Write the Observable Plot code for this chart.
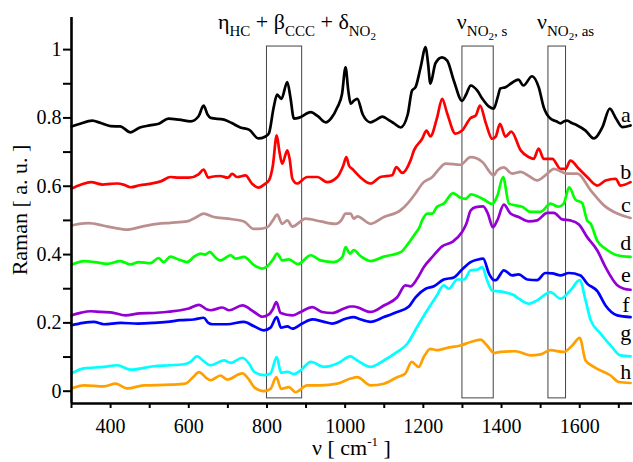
<!DOCTYPE html>
<html>
<head>
<meta charset="utf-8">
<script src="https://cdn.jsdelivr.net/npm/d3@7"></script>
<script src="https://cdn.jsdelivr.net/npm/@observablehq/plot@0.6"></script>
<style>
  html, body { margin: 0; padding: 0; background: #fff; }
</style>
</head>
<body>
<div id="chart"></div>
<script>
// ---- data: Raman spectra [wavenumber, intensity] ----
const a = [[300,.775],[320,.782],[353,.792],[375,.785],[400,.776],[425,.775],[451,.758],[475,.772],[500,.778],[525,.784],[548,.798],[575,.795],[605,.79],[625,.805],[638,.836],[648,.81],[656,.80],[690,.795],[710,.785],[732,.772],[755,.765],[778,.74],[795,.745],[805,.755],[817,.83],[826,.868],[837,.856],[852,.905],[860,.86],[869,.798],[881,.80],[912,.817],[930,.805],[950,.787],[965,.80],[980,.831],[992,.87],[1001,.948],[1008,.88],[1014,.842],[1022,.85],[1031,.856],[1045,.81],[1065,.787],[1080,.795],[1095,.804],[1110,.795],[1125,.784],[1142,.772],[1160,.81],[1171,.88],[1180,.89],[1193,.948],[1206,1.007],[1212,.96],[1218,.90],[1231,.96],[1248,.977],[1261,.968],[1278,.909],[1299,.85],[1310,.87],[1321,.895],[1338,.88],[1351,.856],[1368,.833],[1380,.827],[1390,.86],[1397,.886],[1410,.89],[1427,.903],[1443,.912],[1456,.895],[1478,.922],[1495,.89],[1508,.831],[1525,.798],[1540,.79],[1551,.784],[1560,.79],[1568,.792],[1580,.785],[1594,.778],[1615,.763],[1636,.74],[1658,.773],[1677,.827],[1692,.80],[1709,.773],[1730,.778]];
const b = [[300,.593],[325,.605],[350,.612],[380,.605],[400,.607],[417,.608],[435,.604],[451,.597],[475,.603],[500,.607],[530,.615],[553,.627],[575,.625],[600,.625],[625,.635],[638,.649],[650,.625],[656,.627],[680,.63],[700,.625],[711,.636],[724,.627],[745,.632],[762,.607],[779,.596],[795,.607],[805,.617],[815,.66],[825,.749],[832,.70],[839,.666],[852,.705],[858,.68],[865,.622],[877,.608],[903,.627],[929,.627],[954,.612],[980,.627],[995,.66],[1003,.685],[1010,.66],[1018,.651],[1038,.627],[1065,.608],[1090,.627],[1120,.632],[1131,.656],[1146,.639],[1167,.675],[1176,.705],[1197,.739],[1208,.763],[1218,.746],[1235,.80],[1248,.856],[1261,.813],[1282,.754],[1299,.763],[1321,.80],[1334,.807],[1345,.836],[1360,.784],[1376,.739],[1385,.745],[1396,.783],[1410,.745],[1425,.76],[1449,.705],[1470,.685],[1482,.68],[1495,.71],[1508,.68],[1530,.68],[1551,.651],[1564,.651],[1576,.675],[1598,.651],[1619,.627],[1645,.602],[1666,.617],[1692,.622],[1704,.602],[1730,.612]];
const c = [[300,.485],[320,.49],[344,.492],[380,.485],[410,.478],[443,.473],[480,.482],[520,.49],[553,.493],[596,.497],[620,.51],[638,.52],[664,.51],[700,.505],[741,.497],[766,.475],[778,.475],[801,.48],[815,.50],[826,.517],[839,.49],[852,.50],[865,.482],[899,.505],[937,.497],[975,.49],[990,.50],[1001,.52],[1014,.52],[1022,.505],[1031,.512],[1065,.49],[1099,.51],[1142,.53],[1160,.55],[1176,.573],[1201,.612],[1223,.627],[1240,.65],[1257,.666],[1295,.663],[1321,.685],[1351,.671],[1380,.632],[1389,.646],[1406,.655],[1427,.637],[1449,.642],[1470,.63],[1491,.617],[1515,.635],[1534,.651],[1568,.637],[1594,.637],[1628,.588],[1662,.544],[1696,.52],[1730,.507]];
const d = [[300,.37],[332,.381],[360,.378],[391,.373],[425,.381],[451,.371],[472,.378],[502,.375],[523,.39],[536,.378],[553,.394],[575,.385],[596,.378],[613,.393],[630,.403],[642,.40],[654,.408],[665,.395],[681,.383],[707,.398],[720,.388],[741,.393],[767,.369],[788,.359],[801,.366],[815,.385],[826,.403],[839,.383],[856,.386],[879,.372],[912,.398],[937,.383],[971,.378],[993,.393],[1001,.422],[1012,.403],[1022,.413],[1040,.395],[1065,.381],[1099,.394],[1142,.407],[1160,.43],[1176,.456],[1190,.48],[1197,.50],[1210,.52],[1223,.52],[1235,.54],[1252,.549],[1276,.58],[1295,.566],[1308,.563],[1322,.576],[1338,.571],[1355,.561],[1376,.548],[1389,.571],[1404,.627],[1419,.549],[1436,.544],[1453,.54],[1474,.525],[1500,.525],[1525,.549],[1546,.54],[1559,.549],[1573,.597],[1589,.561],[1606,.551],[1619,.50],[1628,.49],[1645,.44],[1666,.417],[1696,.398],[1730,.393]];
const e = [[300,.222],[325,.23],[349,.234],[375,.232],[400,.231],[438,.222],[475,.228],[511,.229],[550,.233],[579,.237],[600,.242],[626,.253],[647,.239],[656,.237],[686,.245],[703,.237],[737,.251],[767,.232],[788,.218],[805,.225],[815,.24],[824,.261],[835,.229],[865,.222],[886,.232],[916,.246],[941,.232],[967,.229],[997,.242],[1014,.248],[1022,.248],[1065,.232],[1099,.251],[1133,.275],[1154,.31],[1167,.307],[1184,.329],[1201,.363],[1223,.393],[1248,.424],[1274,.437],[1299,.466],[1310,.49],[1321,.529],[1334,.539],[1353,.541],[1365,.52],[1378,.48],[1389,.50],[1406,.546],[1423,.52],[1444,.51],[1470,.497],[1491,.50],[1517,.522],[1534,.522],[1555,.503],[1576,.50],[1598,.488],[1619,.451],[1645,.412],[1666,.363],[1696,.31],[1713,.30],[1730,.297]];
const f = [[300,.193],[330,.2],[357,.203],[383,.196],[425,.2],[470,.198],[511,.2],[545,.203],[579,.208],[613,.21],[638,.215],[650,.2],[660,.196],[698,.196],[741,.203],[767,.19],[792,.178],[809,.186],[825,.217],[836,.186],[852,.19],[865,.183],[890,.198],[916,.21],[946,.203],[967,.198],[1001,.212],[1022,.217],[1035,.212],[1065,.203],[1099,.217],[1133,.232],[1163,.248],[1180,.275],[1206,.30],[1227,.307],[1252,.327],[1278,.333],[1299,.356],[1321,.378],[1338,.385],[1353,.388],[1368,.344],[1381,.325],[1385,.325],[1406,.354],[1427,.339],[1444,.342],[1466,.327],[1491,.325],[1512,.346],[1530,.345],[1551,.339],[1572,.346],[1602,.339],[1619,.315],[1645,.293],[1666,.251],[1696,.222],[1730,.217]];
const g = [[300,.052],[332,.067],[383,.071],[417,.076],[451,.063],[511,.073],[550,.076],[587,.079],[604,.086],[621,.102],[638,.088],[655,.076],[690,.09],[707,.083],[737,.098],[754,.081],[767,.057],[792,.047],[809,.052],[825,.10],[836,.054],[852,.057],[869,.05],[886,.061],[912,.086],[946,.071],[980,.081],[1014,.102],[1031,.09],[1065,.071],[1099,.09],[1133,.115],[1159,.139],[1184,.188],[1210,.237],[1235,.281],[1252,.31],[1265,.30],[1287,.327],[1304,.327],[1321,.354],[1338,.356],[1351,.363],[1363,.325],[1376,.295],[1406,.29],[1432,.281],[1444,.271],[1470,.256],[1491,.266],[1525,.29],[1551,.271],[1576,.295],[1600,.325],[1615,.266],[1628,.208],[1653,.169],[1679,.134],[1704,.105],[1730,.102]];
const h = [[300,.008],[332,.017],[383,.014],[413,.022],[443,.008],[485,.017],[553,.019],[591,.022],[610,.04],[626,.056],[647,.037],[656,.032],[681,.046],[698,.034],[737,.052],[754,.034],[767,.012],[792,0],[809,.007],[824,.041],[836,.007],[856,.012],[873,-.003],[903,.017],[937,.017],[980,.022],[1014,.037],[1031,.041],[1065,.017],[1099,.022],[1133,.041],[1154,.052],[1170,.086],[1188,.071],[1201,.10],[1218,.124],[1235,.12],[1261,.127],[1295,.134],[1321,.144],[1346,.151],[1363,.134],[1381,.112],[1397,.115],[1436,.117],[1474,.105],[1500,.108],[1525,.12],[1559,.115],[1581,.134],[1600,.156],[1615,.09],[1636,.071],[1679,.046],[1700,.027],[1730,.024]];

const seriesNames = ["a","b","c","d","e","f","g","h"];
const seriesData  = [a, b, c, d, e, f, g, h];
const seriesColors = ["#000000","#ff0000","#bc8f8f","#00ff00","#9400d3","#0000ff","#00ffff","#ffa000"];
// end-of-line letter label levels (intensity at the letter baseline)
const letterLevels = [0.787, 0.622, 0.524, 0.412, 0.320, 0.232, 0.149, 0.037];
const letterWavenumber = 1718;

// highlighted bands [from, to] in cm^-1
const bandLo = [800, 1300, 1520];
const bandHi = [890, 1380, 1565];
const bandBottom = -0.021, bandTop = 1.009;

const xTicks = d3.range(300, 1701, 100);
const yTicks = d3.range(0, 11).map(i => i / 10);

// ---- build ----
const rows = seriesData.flatMap((s, i) => s.map(([x, y]) => ({x, y, name: seriesNames[i]})));
const bands = bandLo.map((lo, i) => ({lo, hi: bandHi[i], y1: bandBottom, y2: bandTop}));
const letters = seriesNames.map((t, i) => ({t, y: letterLevels[i], x: letterWavenumber}));

const FONT = "Liberation Serif, Times New Roman, serif";

const plot = Plot.plot({
  width: 633,
  height: 462,
  marginLeft: 71,
  marginRight: 1,
  marginTop: 17,
  marginBottom: 59,
  style: {fontFamily: FONT, fontSize: "20px", color: "#000", background: "#fff", overflow: "visible"},
  x: {domain: [300, 1735]},
  y: {domain: [-0.036, 1.094]},
  color: {domain: seriesNames, range: seriesColors},
  marks: [
    Plot.rect(bands, {x1: "lo", x2: "hi", y1: "y1", y2: "y2", fill: "none", stroke: "#444", strokeWidth: 1}),
    Plot.line(rows, {x: "x", y: "y", z: "name", stroke: "name", strokeWidth: 2.7, strokeLinejoin: "round", curve: "monotone-x"}),
    Plot.ruleX([300], {stroke: "#000", strokeWidth: 2.6}),
    Plot.ruleY([-0.036], {stroke: "#000", strokeWidth: 2.6}),
    Plot.axisY(yTicks, {
      tickSize: 8, tickPadding: 2, strokeWidth: 2, fontSize: 20, fontFamily: FONT, fontVariant: "normal", label: null,
      tickFormat: v => (Math.round(v * 10) % 2 === 0 ? String(+v.toFixed(1)) : "")
    }),
    Plot.axisX(xTicks, {
      tickSize: 5, tickPadding: 10, strokeWidth: 2, fontSize: 20, fontFamily: FONT, fontVariant: "normal", label: null,
      tickFormat: v => (v % 200 === 0 ? String(v) : "")
    }),
    Plot.text(letters, {x: "x", y: "y", text: "t", fontSize: 22, fontFamily: FONT, lineAnchor: "bottom", textAnchor: "middle", fill: "#000"})
  ]
});

document.getElementById("chart").appendChild(plot);

// force serif on all tick labels
d3.select(plot).selectAll("text").attr("font-family", FONT).style("font-family", FONT);

// ---- rich text (subscripts / superscripts) placed through the plot's scales ----
const xs = plot.scale("x"), ys = plot.scale("y");
const svg = d3.select(plot);
const levelOffset = {0: 0, 1: 7, 2: 11, "-1": -9};
const levelSize = {0: 22, 1: 15, 2: 11, "-1": 13};

function rich(x, y, parts, anchor = "start") {
  const t = svg.append("text")
    .attr("x", x).attr("y", y)
    .attr("text-anchor", anchor)
    .style("font-family", FONT)
    .attr("fill", "#000")
    .style("white-space", "pre");
  let prev = 0;
  parts.forEach(([s, lvl]) => {
    t.append("tspan")
      .attr("dy", levelOffset[lvl] - levelOffset[prev])
      .attr("font-size", levelSize[lvl])
      .text(s);
    prev = lvl;
  });
  return t;
}

const noteLevel = 1.06;
const notes = [
  {at: 676, parts: [["η",0],["HC",1],[" + β",0],["CCC",1],[" + δ",0],["NO",1],["2",2]]},
  {at: 1287, parts: [["ν",0],["NO",1],["2",2],[", s",1]]},
  {at: 1492, parts: [["ν",0],["NO",1],["2",2],[", as",1]]}
];
notes.forEach(n => rich(xs.apply(n.at), ys.apply(noteLevel), n.parts));

// x-axis title
const xMid = (xs.range[0] + xs.range[1]) / 2;
rich(xMid, 455, [["ν [ cm",0],["-1",-1],[" ]",0]], "middle");

// y-axis title
const yMid = (ys.range[0] + ys.range[1]) / 2;
svg.append("text")
  .attr("transform", `translate(27,${yMid}) rotate(-90)`)
  .attr("text-anchor", "middle")
  .style("font-family", FONT)
  .attr("font-size", 22)
  .attr("fill", "#000")
  .text("Raman [ a. u. ]");
</script>
</body>
</html>
